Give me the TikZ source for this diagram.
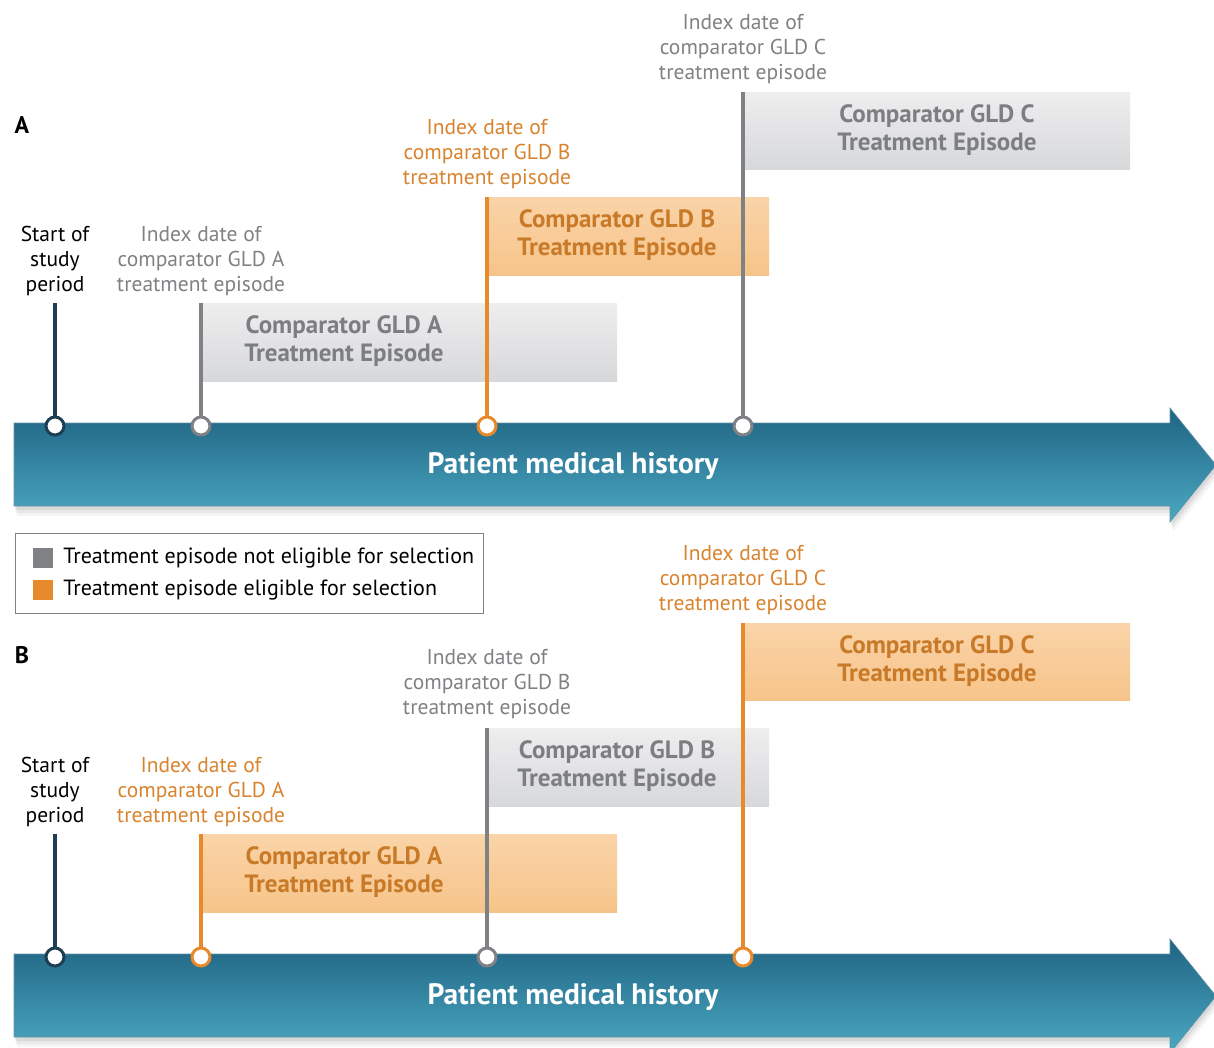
\documentclass[tikz,border=0pt]{standalone}
\usepackage{fontspec}
\setmainfont{PT Sans}
\usetikzlibrary{positioning}
\definecolor{navy}{HTML}{1E3E54}
\definecolor{lgray}{HTML}{808184}
\definecolor{orng}{HTML}{E8892B}
\definecolor{otext}{HTML}{D8832E}
\definecolor{oboxtext}{HTML}{C87A28}
\definecolor{gboxtext}{HTML}{7D7E81}
\definecolor{obox1}{HTML}{FAD0A0}
\definecolor{obox2}{HTML}{F5BF80}
\definecolor{gbox1}{HTML}{EEEEEF}
\definecolor{gbox2}{HTML}{D7D8DA}
\definecolor{arr1}{HTML}{1F6382}
\definecolor{arr2}{HTML}{4BA9C3}
\tikzset{
  x=1pt, y=-1pt,
  arrowbody/.style={top color=arr1, bottom color=arr2, draw=arr1!70, line width=0.6pt},
  histtext/.style={text=white, font=\bfseries\fontsize{29.5}{33}\selectfont},
  panellabel/.style={font=\bfseries\fontsize{24}{28}\selectfont},
  gbox/.style={top color=gbox1, bottom color=gbox2, inner sep=0pt, outer sep=0pt, anchor=north west},
  obox/.style={top color=obox1, bottom color=obox2, fill opacity=0.92, inner sep=0pt, outer sep=0pt, anchor=north west},
  gboxtxt/.style={text=gboxtext, align=center, font=\bfseries\fontsize{25}{28}\selectfont},
  oboxtxt/.style={text=oboxtext, align=center, font=\bfseries\fontsize{25}{28}\selectfont},
  idxtxt/.style={align=center, font=\fontsize{21.5}{25}\selectfont, inner sep=0pt},
  gidx/.style={idxtxt, text=lgray},
  oidx/.style={idxtxt, text=otext},
  startlbl/.style={idxtxt, text=black},
  stem/.style={line width=4.5pt},
  dot/.style={circle, draw, fill=white, line width=3pt, minimum size=18pt, inner sep=0pt},
  legtxt/.style={anchor=west, font=\fontsize{22}{25}\selectfont, inner sep=0pt},
}
\newcommand\histarrow{%
  (14,423) -- (1170,423) -- (1170,408) -- (1216,465) -- (1170,522) -- (1170,506) -- (14,506) -- cycle}
\begin{document}
\begin{tikzpicture}
\useasboundingbox (0,0) rectangle (1214,1047);

% ---------------- Panel A ----------------
\begin{scope}
  \node[panellabel] (labA) at (22,125) {A};
  % soft shadow under the timeline arrow
  \foreach \d/\o in {10/0.04,7/0.05,4/0.07}
    \fill[black, opacity=\o, shift={(\d*0.3,\d)}] \histarrow;
  \path[arrowbody] \histarrow;
  \node[histtext] (histA) at (573,466) {Patient medical history};

  % treatment episode bars
  \node[gbox, minimum width=414pt, minimum height=78pt] (epAa) at (203,303) {};
  \node[obox, minimum width=282pt, minimum height=78pt] (epAb) at (487,197) {};
  \node[gbox, minimum width=385pt, minimum height=77pt] (epAc) at (745,92) {};
  \node[gboxtxt] (tAa) at (344,341) {Comparator GLD A\\Treatment Episode};
  \node[oboxtxt] (tAb) at (617,235) {Comparator GLD B\\Treatment Episode};
  \node[gboxtxt] (tAc) at (937,130) {Comparator GLD C\\Treatment Episode};

  % index dates on the timeline
  \node[dot, draw=navy] (dA0) at (55,426) {};
  \node[dot, draw=lgray] (dAa) at (201,426) {};
  \node[dot, draw=orng] (dAb) at (487,426) {};
  \node[dot, draw=lgray] (dAc) at (743,426) {};
  \coordinate (sA0) at (55,303);
  \coordinate (sAa) at (201,303);
  \coordinate (sAb) at (487,197);
  \coordinate (sAc) at (743,92);
  \draw[stem, navy] (sA0) -- (dA0.north);
  \draw[stem, lgray] (sAa) -- (dAa.north);
  \draw[stem, orng] (sAb) -- (dAb.north);
  \draw[stem, lgray] (sAc) -- (dAc.north);

  \node[startlbl] (lA0) at (55,261) {Start of\\study\\period};
  \node[gidx] (lAa) at (201,261) {Index date of\\comparator GLD A\\treatment episode};
  \node[oidx] (lAb) at (487,154) {Index date of\\comparator GLD B\\treatment episode};
  \node[gidx] (lAc) at (743,49) {Index date of\\comparator GLD C\\treatment episode};
\end{scope}

% ---------------- Legend ----------------
\node[draw=lgray, line width=1.5pt, minimum width=468pt, minimum height=80pt, anchor=north west, inner sep=0pt] (legend) at (14.5,532.5) {};
\node[fill=lgray, minimum size=20pt, inner sep=0pt] (sqg) at (43,558) {};
\node[fill=orng, minimum size=20pt, inner sep=0pt] (sqo) at (43,590) {};
\node[legtxt, right=10pt of sqg] (lgg) {Treatment episode not eligible for selection};
\node[legtxt, right=10pt of sqo] (lgo) {Treatment episode eligible for selection};

% ---------------- Panel B ----------------
\begin{scope}[shift={(0,531)}]
  \node[panellabel] (labB) at (22,124) {B};
  \foreach \d/\o in {10/0.04,7/0.05,4/0.07}
    \fill[black, opacity=\o, shift={(\d*0.3,\d)}] \histarrow;
  \path[arrowbody] \histarrow;
  \node[histtext] (histB) at (573,466) {Patient medical history};

  \node[obox, minimum width=414pt, minimum height=78pt] (epBa) at (203,303) {};
  \node[gbox, minimum width=282pt, minimum height=78pt] (epBb) at (487,197) {};
  \node[obox, minimum width=385pt, minimum height=77pt] (epBc) at (745,92) {};
  \node[oboxtxt] (tBa) at (344,341) {Comparator GLD A\\Treatment Episode};
  \node[gboxtxt] (tBb) at (617,235) {Comparator GLD B\\Treatment Episode};
  \node[oboxtxt] (tBc) at (937,130) {Comparator GLD C\\Treatment Episode};

  \node[dot, draw=navy] (dB0) at (55,426) {};
  \node[dot, draw=orng] (dBa) at (201,426) {};
  \node[dot, draw=lgray] (dBb) at (487,426) {};
  \node[dot, draw=orng] (dBc) at (743,426) {};
  \coordinate (sB0) at (55,303);
  \coordinate (sBa) at (201,303);
  \coordinate (sBb) at (487,197);
  \coordinate (sBc) at (743,92);
  \draw[stem, navy] (sB0) -- (dB0.north);
  \draw[stem, orng] (sBa) -- (dBa.north);
  \draw[stem, lgray] (sBb) -- (dBb.north);
  \draw[stem, orng] (sBc) -- (dBc.north);

  \node[startlbl] (lB0) at (55,261) {Start of\\study\\period};
  \node[oidx] (lBa) at (201,261) {Index date of\\comparator GLD A\\treatment episode};
  \node[gidx] (lBb) at (487,153) {Index date of\\comparator GLD B\\treatment episode};
  \node[oidx] (lBc) at (743,49) {Index date of\\comparator GLD C\\treatment episode};
\end{scope}
\end{tikzpicture}
\end{document}
